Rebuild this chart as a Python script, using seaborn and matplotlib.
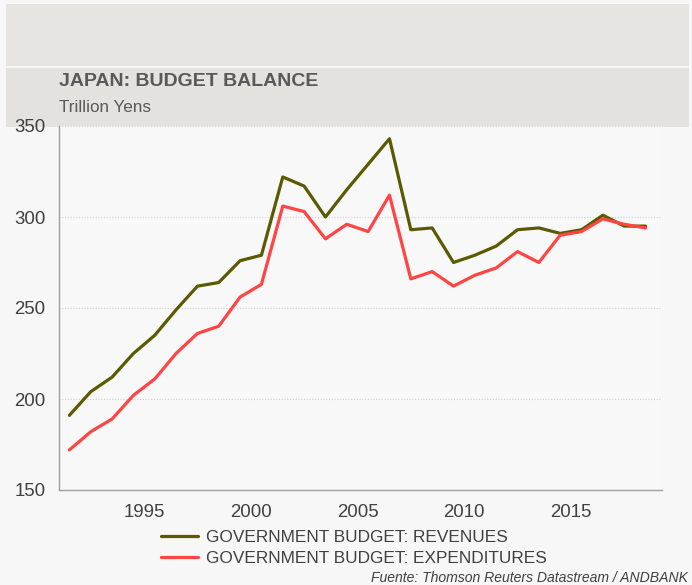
import numpy as np
import pandas as pd
import matplotlib
matplotlib.use("Agg")
import matplotlib.pyplot as plt
from matplotlib.patches import Rectangle
from matplotlib.ticker import MultipleLocator, FixedLocator
import seaborn as sns

# Japan government budget, trillion yen (annual values)
years = list(range(1991, 2019))
revenues = [191, 204, 212, 225, 235, 249, 262, 264, 276, 279,
            322, 317, 300, 315, 329, 343, 293, 294, 275, 279,
            284, 293, 294, 291, 293, 301, 295, 295]
expenditures = [172, 182, 189, 202, 211, 225, 236, 240, 256, 263,
                306, 303, 288, 296, 292, 312, 266, 270, 262, 268,
                272, 281, 275, 290, 292, 299, 296, 294]
series_names = ["GOVERNMENT BUDGET: REVENUES", "GOVERNMENT BUDGET: EXPENDITURES"]
series_colors = ["#5b5a00", "#ff4444"]
year_ticks = [1995, 2000, 2005, 2010, 2015]
value_ticks = [150, 200, 250, 300, 350]

title = "JAPAN: BUDGET BALANCE"
subtitle = "Trillion Yens"
source = "Fuente: Thomson Reuters Datastream / ANDBANK"

df = pd.DataFrame({
    "year": [y + 0.5 for y in years] * 2,  # annual values centred in their year
    "value": revenues + expenditures,
    "series": [series_names[0]] * len(years) + [series_names[1]] * len(years),
})

sns.set_theme(style="white")
plt.rcParams["font.family"] = ["Liberation Sans", "DejaVu Sans"]

W, H = 692, 585
fig = plt.figure(figsize=(W / 100, H / 100), dpi=100, facecolor="#f7f7f7")


def fx(px):
    return px / W


def fy(py):
    return 1 - py / H


ax = fig.add_axes([fx(58.7), fy(490), fx(662) - fx(58.7), fy(126) - fy(490)])
ax.set_facecolor("#f8f8f8")

sns.lineplot(data=df, x="year", y="value", hue="series", hue_order=series_names,
             palette=series_colors, linewidth=2.3, ax=ax, legend=True)

ax.set_xlim(1991, 2019.27)
ax.set_ylim(150, 350)
ax.xaxis.set_major_locator(FixedLocator(year_ticks))
ax.xaxis.set_minor_locator(MultipleLocator(1))
ax.yaxis.set_major_locator(FixedLocator(value_ticks))
ax.yaxis.set_minor_locator(MultipleLocator(10))
ax.set_xlabel("")
ax.set_ylabel("")

for side in ["top", "right"]:
    ax.spines[side].set_visible(False)
for side in ["left", "bottom"]:
    ax.spines[side].set_color("#a0a0a0")
    ax.spines[side].set_linewidth(1.0)

ax.tick_params(axis="both", which="major", direction="out", color="#a0a0a0",
               labelsize=13.4, labelcolor="#404040", width=1.0)
ax.tick_params(axis="y", which="major", length=3.6, pad=6)
ax.tick_params(axis="x", which="major", length=2.8, pad=7)
ax.tick_params(axis="both", which="minor", direction="out", color="#a0a0a0",
               length=2.0, width=0.9)

ax.grid(axis="y", which="major", linestyle=(0, (1, 1.5)), color="#cfcfcf", linewidth=0.8)
ax.set_axisbelow(True)

handles, labels = ax.get_legend_handles_labels()
ax.legend(handles, labels, loc="center left", bbox_to_anchor=(fx(160.5), fy(548)),
          bbox_transform=fig.transFigure, frameon=False, fontsize=12.4,
          handlelength=2.2, handletextpad=0.45, labelspacing=0.3,
          borderpad=0, borderaxespad=0, labelcolor="#404040")

# header bands
fig.patches.append(Rectangle((fx(6), fy(66)), fx(689) - fx(6), fy(4) - fy(66),
                             transform=fig.transFigure, facecolor="#e6e5e1",
                             edgecolor="none", zorder=-1))
fig.patches.append(Rectangle((fx(6), fy(127)), fx(689) - fx(6), fy(67.5) - fy(127),
                             transform=fig.transFigure, facecolor="#e3e2de",
                             edgecolor="none", zorder=-1))

fig.text(fx(59), fy(82), title, fontsize=14, fontweight="bold", color="#595959",
         ha="left", va="center")
fig.text(fx(59), fy(107), subtitle, fontsize=12.3, color="#595959",
         ha="left", va="center")
fig.text(fx(688), fy(578), source, fontsize=10.1, style="italic", color="#404040",
         ha="right", va="center")

fig.savefig("out.png", dpi=100, facecolor=fig.get_facecolor())
